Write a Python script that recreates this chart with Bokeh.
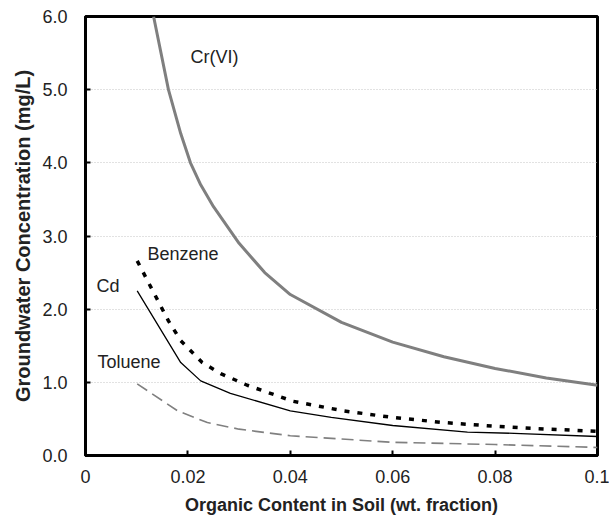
from bokeh.plotting import figure
from bokeh.models import Range1d, FixedTicker
from bokeh.embed import file_html
from bokeh.resources import INLINE
from bokeh.core.properties import value

# ---- data ----
cr_x = [0.0133, 0.0162, 0.0186, 0.0205, 0.0225, 0.025, 0.03, 0.035, 0.04, 0.05, 0.06, 0.07, 0.08, 0.09, 0.1]
cr_y = [6.0, 5.0, 4.4, 4.0, 3.7, 3.4, 2.9, 2.5, 2.2, 1.82, 1.55, 1.35, 1.19, 1.06, 0.96]

benz_x = [0.0101, 0.0162, 0.0186, 0.0228, 0.0264, 0.0316, 0.0406, 0.0504, 0.06, 0.07, 0.08, 0.0875, 0.1]
benz_y = [2.66, 1.84, 1.57, 1.27, 1.12, 0.96, 0.74, 0.61, 0.52, 0.45, 0.40, 0.37, 0.33]

cd_x = [0.0101, 0.0186, 0.0225, 0.0283, 0.04, 0.048, 0.06, 0.0746, 0.085, 0.1]
cd_y = [2.25, 1.27, 1.02, 0.85, 0.61, 0.52, 0.41, 0.32, 0.30, 0.26]

tol_x = [0.0101, 0.018, 0.0238, 0.03, 0.04, 0.06, 0.08, 0.1]
tol_y = [0.98, 0.61, 0.45, 0.36, 0.27, 0.18, 0.15, 0.11]

x_ticks = [0, 0.02, 0.04, 0.06, 0.08, 0.1]
x_tick_labels = ["0", "0.02", "0.04", "0.06", "0.08", "0.1"]
y_ticks = [0, 1, 2, 3, 4, 5, 6]
y_tick_labels = ["0.0", "1.0", "2.0", "3.0", "4.0", "5.0", "6.0"]

label_names = ["Cr(VI)", "Benzene", "Cd", "Toluene"]
label_x = [0.0205, 0.0121, 0.00215, 0.00234]
label_y = [5.44, 2.75, 2.32, 1.28]

FONT = "Liberation Sans"

p = figure(width=609, height=523, output_backend="svg", toolbar_location=None,
           x_range=Range1d(0, 0.1), y_range=Range1d(0, 6),
           min_border_left=85, min_border_right=12, min_border_top=16, min_border_bottom=68)
p.background_fill_color = "white"
p.border_fill_color = "white"
p.outline_line_color = "black"
p.outline_line_width = 3

p.xgrid.grid_line_color = None
p.ygrid.grid_line_color = "#c4c4c4"
p.ygrid.grid_line_dash = "1 2"
p.ygrid.grid_line_width = 1

for ax in (p.xaxis[0], p.yaxis[0]):
    ax.axis_line_color = "black"
    ax.axis_line_width = 3
    ax.major_tick_in = 5
    ax.major_tick_out = 0
    ax.major_tick_line_width = 2
    ax.major_tick_line_color = "black"
    ax.minor_tick_line_color = None
    ax.major_label_text_font = FONT
    ax.major_label_text_font_size = "18px"
    ax.major_label_text_color = "#222222"
    ax.axis_label_text_font = FONT
    ax.axis_label_text_font_style = "bold"
    ax.axis_label_text_color = "#222222"

p.xaxis.ticker = FixedTicker(ticks=x_ticks)
p.xaxis.major_label_overrides = dict(zip(x_ticks, x_tick_labels))
p.yaxis.ticker = FixedTicker(ticks=y_ticks)
p.yaxis.major_label_overrides = dict(zip(y_ticks, y_tick_labels))

p.xaxis.axis_label = "Organic Content in Soil (wt. fraction)"
p.yaxis.axis_label = "Groundwater Concentration (mg/L)"
p.xaxis.axis_label_text_font_size = "18px"
p.yaxis.axis_label_text_font_size = "20px"
p.xaxis.major_label_standoff = 14
p.yaxis.major_label_standoff = 18
p.xaxis.axis_label_standoff = 9
p.yaxis.axis_label_standoff = 5

p.line(cr_x, cr_y, line_color="#7f7f7f", line_width=3)
p.line(benz_x, benz_y, line_color="black", line_width=3.5, line_dash="5 8")
p.line(cd_x, cd_y, line_color="black", line_width=1.3)
p.line(tol_x, tol_y, line_color="#808080", line_width=1.6, line_dash="12 6")

p.text(x=label_x, y=label_y, text=label_names, text_font=value(FONT),
       text_font_size="18px", text_color="#222222",
       text_align="left", text_baseline="middle")

open("out.html", "w").write(file_html(p, INLINE))
